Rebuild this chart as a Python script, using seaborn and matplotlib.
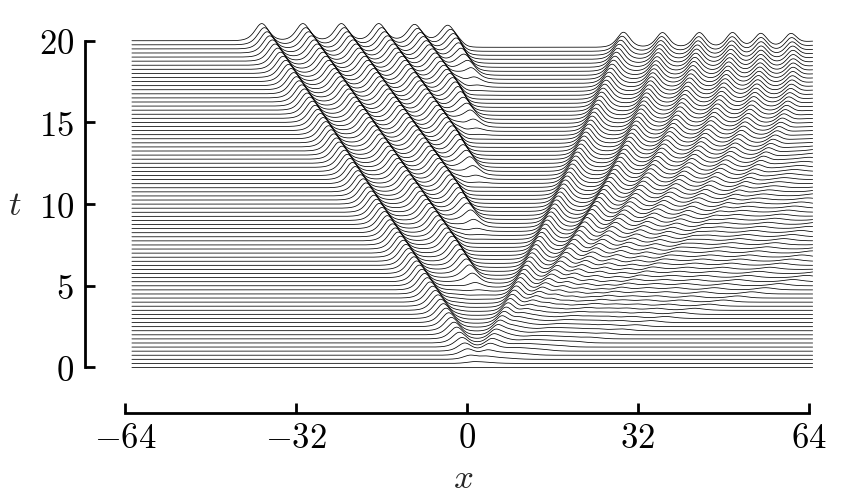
import numpy as np
import pandas as pd
import seaborn as sns
import matplotlib
matplotlib.use("Agg")
from matplotlib import pyplot as plt

# values
T_STEP = 0.25            # spacing of the stacked curves
T_END = 20.0
X_FIRST, X_LAST = -62.7, 64.7
ONSET_TIME = 1.5         # the t=0 curve is flat, pulses rise over the first few steps

# left-moving pulses: position at t=20, height, speed, birth point
LEFT_X20 = [-38.4, -30.7, -23.5, -16.5, -9.8, -3.6]
LEFT_AMP = [1.05, 1.05, 1.05, 1.05, 1.0, 0.95]
LEFT_SPEED = [-2.0, -2.15, -2.2, -2.2, -2.2, -2.2]
SOURCE_X = 1.2
LEFT_WIDTH = 1.7

# right-moving pulses: track read at t = 0, 8.5, 20 and height read at t = 0, 1, 8.5, 20
TRACK_T = [0.0, 8.5, 20.0]
RIGHT_X0 = [2.5, 2.5, 2.5, 2.5, 2.5, 2.5]
RIGHT_XMID = [15.4, 22.5, 27.8, 33.1, 38.5, 44.0]
RIGHT_X20 = [29.3, 36.6, 43.5, 49.7, 55.0, 60.6]
AMP_T = [0.0, 1.0, 8.5, 20.0]
RIGHT_AMP = [
    [0.0, 0.8, 0.95, 0.92],
    [0.0, 0.2, 0.85, 0.9],
    [0.0, 0.1, 0.55, 0.9],
    [0.0, 0.07, 0.35, 0.9],
    [0.0, 0.05, 0.25, 0.85],
    [0.0, 0.04, 0.18, 0.8],
]
RIGHT_WIDTH = 1.6

# faint fast ripples ahead of the right group
RIPPLE_XMID = [47.0, 55.0, 64.0, 76.0, 92.0]
RIPPLE_X20 = [85.0, 100.0, 118.0, 140.0, 170.0]
RIPPLE_AMP = [0.0, 0.14, 0.14, 0.08]
RIPPLE_WIDTH = 2.2

SHELF_DEPTH = 0.4        # dip behind the left group at t=20

XTICKS = [-64, -32, 0, 32, 64]
YTICKS = [0, 5, 10, 15, 20]


def sech2(z):
    return 1.0 / np.cosh(z) ** 2


x = np.linspace(X_FIRST, X_LAST, 1400)
times = np.arange(0, T_END + T_STEP / 2, T_STEP)

right_tracks = [np.polyfit(TRACK_T, [a, b, c], 2)
                for a, b, c in zip(RIGHT_X0, RIGHT_XMID, RIGHT_X20)]
ripple_tracks = [np.polyfit(TRACK_T, [2.5, b, c], 2)
                 for b, c in zip(RIPPLE_XMID, RIPPLE_X20)]

rows = []
for t in times:
    u = np.zeros_like(x)
    for x20, amp, c in zip(LEFT_X20, LEFT_AMP, LEFT_SPEED):
        xc = x20 + c * (t - T_END)
        grow = 0.5 * (1 + np.tanh((SOURCE_X - xc) / 0.8))
        u += amp * grow * sech2((x - xc) / LEFT_WIDTH)
    for tr, amps in zip(right_tracks, RIGHT_AMP):
        xc = np.polyval(tr, t)
        u += np.interp(t, AMP_T, amps) * sech2((x - xc) / RIGHT_WIDTH)
    for tr in ripple_tracks:
        xc = np.polyval(tr, t)
        u += np.interp(t, AMP_T, RIPPLE_AMP) * sech2((x - xc) / RIPPLE_WIDTH)
    right_end = np.polyval(right_tracks[-1], t) + 2.0
    shelf = 0.5 * (np.tanh((x - (SOURCE_X - 2.0)) / 1.0) - np.tanh((x - right_end) / 2.0))
    u -= SHELF_DEPTH * t / T_END * shelf
    u *= 1 - np.exp(-t / ONSET_TIME)
    rows.append(pd.DataFrame({"t": t, "x": x, "y": t + u}))
df = pd.concat(rows, ignore_index=True)

sns.set_theme(style="ticks")
plt.rcParams["mathtext.fontset"] = "cm"
plt.rcParams["font.family"] = ["DejaVu Serif"]

fig = plt.figure(figsize=(8.41, 5.0), dpi=100)
ax = fig.add_axes([0.1486, 0.2552, 0.818, 0.7156])
sns.lineplot(data=df, x="x", y="y", units="t", estimator=None, sort=False,
             color="black", linewidth=0.55, legend=False, ax=ax)

ax.set_xlim(-64, 64.75)
ax.set_ylim(-0.3, 21.6)
for side in ["top", "right"]:
    ax.spines[side].set_visible(False)
ax.spines["left"].set_position(("outward", 28.8))
ax.spines["bottom"].set_position(("outward", 29.2))
ax.spines["left"].set_bounds(0, 20)
ax.spines["bottom"].set_bounds(-64, 64)
for side in ["left", "bottom"]:
    ax.spines[side].set_linewidth(2.0)
    ax.spines[side].set_color("black")

ax.set_xticks(XTICKS, labels=[f"${v}$" for v in XTICKS])
ax.set_yticks(YTICKS, labels=[f"${v}$" for v in YTICKS])
ax.tick_params(direction="in", length=7, width=2.0, labelsize=25, colors="black")
ax.tick_params(axis="y", pad=8)
ax.tick_params(axis="x", pad=6)

ax.set_xlabel("$x$", fontsize=25, va="center")
ax.set_ylabel("$t$", fontsize=25, rotation=0, va="center", ha="center")
ax.xaxis.set_label_coords(0.491, -0.295)
ax.yaxis.set_label_coords(-0.160, 0.467)

fig.savefig("out.png", dpi=100)
